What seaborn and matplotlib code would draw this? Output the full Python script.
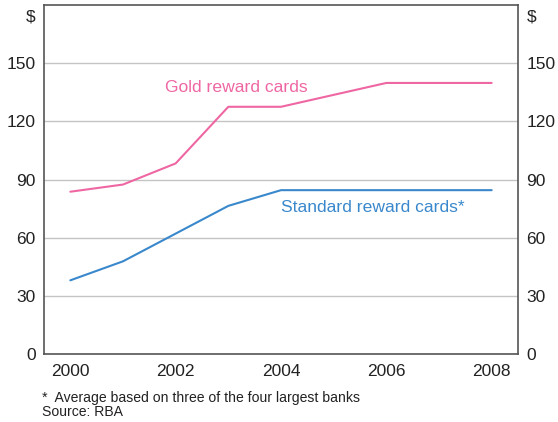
import numpy as np
import pandas as pd
import matplotlib
matplotlib.use("Agg")
import matplotlib.pyplot as plt
import seaborn as sns

# values (mid-year points)
gold_years = [2000, 2001, 2002, 2003, 2004, 2006, 2008]
gold_vals = [83.7, 87.4, 98.3, 127.5, 127.5, 139.8, 139.8]
std_years = [2000, 2001, 2003, 2004, 2008]
std_vals = [38.0, 47.8, 76.4, 84.5, 84.5]
y_ticks = [0, 30, 60, 90, 120, 150]
x_labels = [2000, 2002, 2004, 2006, 2008]

pink = "#EE67A3"
blue = "#3A88CC"

df = pd.concat([
    pd.DataFrame({"year": np.array(gold_years) + 0.5, "value": gold_vals, "series": "Gold reward cards"}),
    pd.DataFrame({"year": np.array(std_years) + 0.5, "value": std_vals, "series": "Standard reward cards*"}),
])

sns.set_style("white")
plt.rcParams['font.family'] = ['Liberation Sans', 'DejaVu Sans']

fig = plt.figure(figsize=(5.58, 4.22), dpi=100)
ax = fig.add_axes([44 / 558, 68 / 422, 474 / 558, 349 / 422])

sns.lineplot(data=df, x="year", y="value", hue="series",
             palette={"Gold reward cards": pink, "Standard reward cards*": blue},
             linewidth=1.5, legend=False, ax=ax)

ax.set_xlim(2000, 2009)
ax.set_ylim(0, 180)
ax.set_xlabel("")
ax.set_ylabel("")

ax.set_yticks(y_ticks)
ax.yaxis.grid(True, color="#C4C4C4", linewidth=1)
ax.set_axisbelow(True)
ax.tick_params(axis="y", length=0, labelsize=12.5, labelcolor="#222222",
               left=False, right=False, labelleft=True, labelright=True, pad=6)

ax.set_xticks([y + 0.5 for y in x_labels])
ax.set_xticklabels([str(y) for y in x_labels])
ax.set_xticks(range(2001, 2009), minor=True)
ax.tick_params(axis="x", which="major", length=0, labelsize=12.5, labelcolor="#222222", pad=7)
ax.tick_params(axis="x", which="minor", direction="in", length=6, width=1, color="#444444")

for s in ax.spines.values():
    s.set_color("#555555")
    s.set_linewidth(1.2)

ax.text(-0.019, 0.965, "$", transform=ax.transAxes, ha="right", va="center", fontsize=12.5, color="#222222")
ax.text(1.019, 0.965, "$", transform=ax.transAxes, ha="left", va="center", fontsize=12.5, color="#222222")

ax.text(2003.66, 137.6, "Gold reward cards", ha="center", va="center", fontsize=12.6, color=pink)
ax.text(2006.24, 75.8, "Standard reward cards*", ha="center", va="center", fontsize=12.6, color=blue)

fig.text(42 / 558, 1 - 398 / 422, "*  Average based on three of the four largest banks",
         ha="left", va="center", fontsize=10.1, color="#222222")
fig.text(42 / 558, 1 - 412 / 422, "Source: RBA", ha="left", va="center", fontsize=10.1, color="#222222")

fig.savefig("out.png", dpi=100)
